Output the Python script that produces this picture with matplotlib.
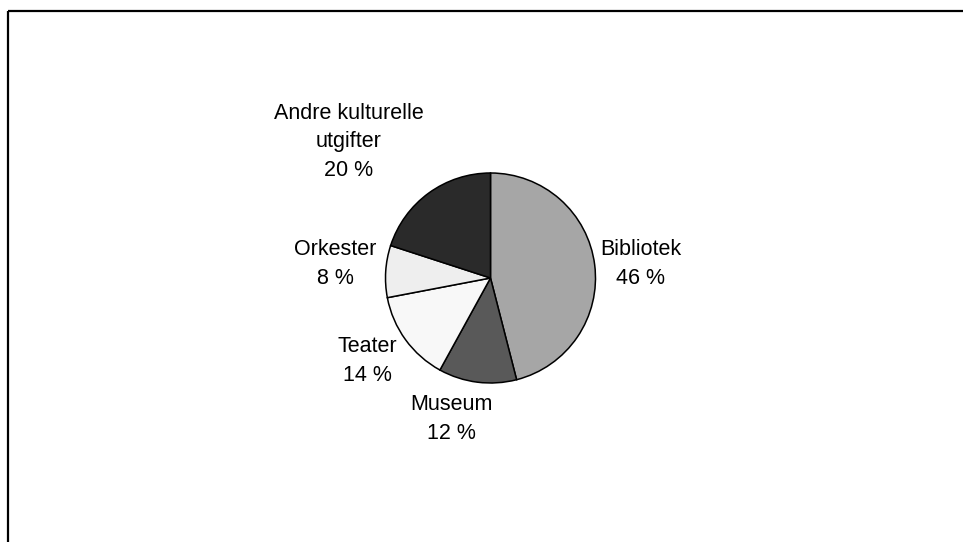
import matplotlib

matplotlib.use("Agg")
import matplotlib.pyplot as plt
from matplotlib.patches import Rectangle

plt.rcParams["font.family"] = ["Liberation Sans", "DejaVu Sans"]

# data
categories = ["Bibliotek", "Museum", "Teater", "Orkester", "Andre kulturelle\nutgifter"]
shares = [46, 12, 14, 8, 20]
colors = ["#a6a6a6", "#595959", "#f8f8f8", "#eeeeee", "#2a2a2a"]

# label anchor points (pixel coords, centre of text block)
label_pos = [(641, 264), (451.5, 419), (367, 361), (335.5, 264), (349, 142)]

fig = plt.figure(figsize=(9.63, 5.42), dpi=100)
ax = fig.add_axes([0, 0, 1, 1])

# y axis runs downward, so start at -90 (top) and go "counterclock" = visually clockwise
ax.pie(shares, colors=colors, startangle=-90, counterclock=True,
       center=(490.5, 278), radius=105, frame=True,
       wedgeprops=dict(edgecolor="black", linewidth=1.1))
ax.set_xlim(0, 963)
ax.set_ylim(542, 0)
ax.set_aspect("equal")
ax.axis("off")

for name, val, (x, y) in zip(categories, shares, label_pos):
    ax.text(x, y, f"{name}\n{val} %", ha="center", va="center",
            fontsize=15.5, linespacing=1.44, color="black")

# chart frame (open on right and bottom, cut by image edge)
ax.add_patch(Rectangle((8, 11), 1000, 600, fill=False, edgecolor="black",
                       linewidth=1.6, clip_on=False))

fig.savefig("out.png", dpi=100)
